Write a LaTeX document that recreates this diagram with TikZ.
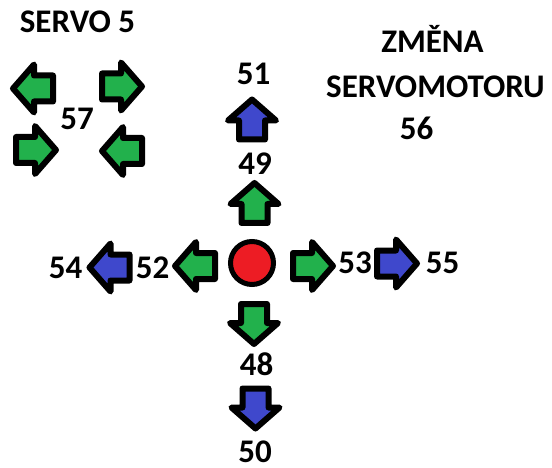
\documentclass[tikz,border=0pt]{standalone}
\usepackage{fontspec}
\setmainfont{Carlito}
\usetikzlibrary{positioning}
\definecolor{PaintGreen}{HTML}{22B14C}
\definecolor{PaintBlue}{HTML}{3F48CC}
\definecolor{PaintRed}{HTML}{ED1C24}
\tikzset{
  arrowline/.style={draw=black, line width=6pt, line join=round},
  pics/blockarrow/.style={code={
    \draw[arrowline, fill=#1] (-20,-13) -- (-1,-13) -- (-1,-24) -- (20,0)
      -- (-1,24) -- (-1,13) -- (-20,13) -- cycle;
  }},
  lbl/.style={anchor=base, inner sep=0pt, font=\fontsize{33}{36}\selectfont\bfseries}
}

\begin{document}
\begin{tikzpicture}[x=1pt, y=-1pt]
  \useasboundingbox (0,0) rectangle (552,468);
  % servo 5 arrows
  \foreach \x/\y/\ang/\col/\name in {33/88.5/180/PaintGreen/sa, 122/86.5/0/PaintGreen/sb,
      36/150/0/PaintGreen/sc, 122/151/180/PaintGreen/sd} {
    \pic[rotate=\ang] (\name) at (\x,\y) {blockarrow=\col};
  }
  % cross arrows
  \foreach \x/\y/\ang/\col/\name in {252/119.5/90/PaintBlue/a51, 254.5/203/90/PaintGreen/a49,
      195/266/180/PaintGreen/a52, 313/266/0/PaintGreen/a53, 254/324/-90/PaintGreen/a48,
      109.5/267.5/180/PaintBlue/a54, 397/263.5/0/PaintBlue/a55, 255.5/408.5/-90/PaintBlue/a50} {
    \pic[rotate=\ang] (\name) at (\x,\y) {blockarrow=\col};
  }
  \node[draw=black, line width=5pt, circle, fill=PaintRed, minimum size=43pt, inner sep=0pt] (stred) at (252,263) {};
  % labels
  \node[lbl] (servo) at (77.5,33) {SERVO 5};
  \node[lbl] (zmena) at (432.5,53) {ZMĚNA};
  \node[lbl] (servomotoru) at (435.5,98) {SERVOMOTORU};
  \foreach \x/\y/\txt in {416.5/140/56, 77/130/57, 253.5/85/51, 255/175/49, 355/273/53,
      442.5/273/55, 65.5/278/54, 152.5/278/52, 256.5/375/48, 255/462/50} {
    \node[lbl] (n\txt) at (\x,\y) {\txt};
  }
\end{tikzpicture}
\end{document}
